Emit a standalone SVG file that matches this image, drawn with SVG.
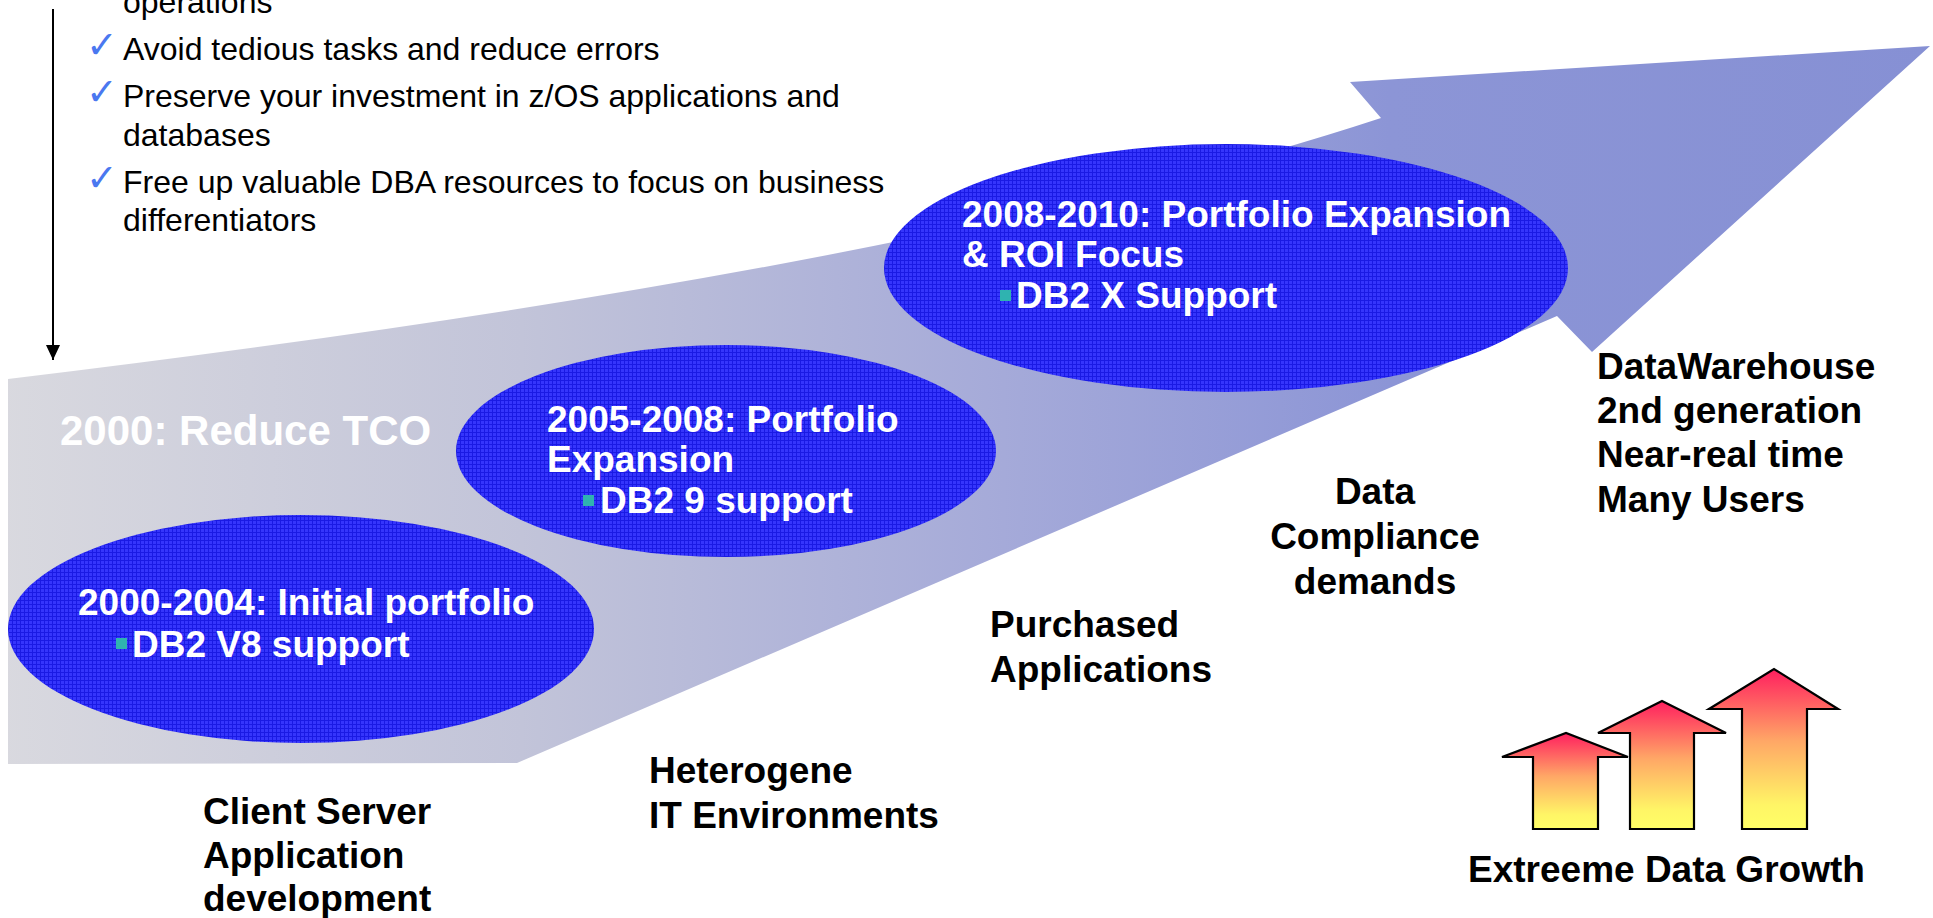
<svg xmlns="http://www.w3.org/2000/svg" width="1933" height="918" viewBox="0 0 1933 918">
  <defs>
    <linearGradient id="bandGrad" gradientUnits="userSpaceOnUse" x1="0" y1="0" x2="1930" y2="0">
      <stop offset="0" stop-color="#d9d9df"/>
      <stop offset="0.27" stop-color="#c2c4d9"/>
      <stop offset="0.52" stop-color="#a5aad9"/>
      <stop offset="0.72" stop-color="#8c95d6"/>
      <stop offset="1" stop-color="#8690d4"/>
    </linearGradient>
    <linearGradient id="growGrad" x1="0" y1="0" x2="0" y2="1">
      <stop offset="0" stop-color="#ff1f5f"/>
      <stop offset="0.45" stop-color="#ffa766"/>
      <stop offset="0.85" stop-color="#fff566"/>
      <stop offset="1" stop-color="#ffff66"/>
    </linearGradient>
    <pattern id="hatch" width="4" height="4" patternUnits="userSpaceOnUse">
      <rect width="4" height="4" fill="#3535fc"/>
      <path d="M0 0.5H4M0.5 0V4" stroke="#1a1ae4" stroke-width="1"/>
    </pattern>
    <marker id="arrowHead" viewBox="0 0 15 14" refX="15" refY="7" markerWidth="15" markerHeight="14" markerUnits="userSpaceOnUse" orient="auto">
      <path d="M0,0 L15,7 L0,14 Z" fill="#000"/>
    </marker>
    <style>
      text { font-family: "Liberation Sans", Arial, sans-serif; }
      .body { font-size: 32px; fill: #000; }
      .chk { font-family: "DejaVu Sans", sans-serif; font-size: 38px; fill: #4a78f0; }
      .lbl { font-size: 37px; font-weight: bold; fill: #000; }
      .wht { font-size: 37px; font-weight: bold; fill: #fff; }
      .ell { fill: url(#hatch); }
      .bul { fill: #2fb3b0; }
      .grow { fill: url(#growGrad); stroke: #000; stroke-width: 2.2; stroke-linejoin: miter; }
    </style>
  </defs>

  <rect width="1933" height="918" fill="#fff"/>

  <!-- big growth band / arrow -->
  <g id="band">
    <path d="M8,379 Q922,269 1381,118 L1350,82 L1930,46 L1592,352 L1557,316 L517,763 L8,764 Z" fill="url(#bandGrad)"/>
    <text x="60" y="445" font-size="42" font-weight="bold" fill="#fff">2000: Reduce TCO</text>
  </g>

  <!-- bullet list at top left -->
  <g id="bullets">
    <text class="body" x="123" y="13">operations</text>
    <text class="chk" x="86" y="58">✓</text>
    <text class="body" x="123" y="60">Avoid tedious tasks and reduce errors</text>
    <text class="chk" x="86" y="105">✓</text>
    <text class="body" x="123" y="107">Preserve your investment in z/OS applications and</text>
    <text class="body" x="123" y="146">databases</text>
    <text class="chk" x="86" y="191">✓</text>
    <text class="body" x="123" y="193">Free up valuable DBA resources to focus on business</text>
    <text class="body" x="123" y="231">differentiators</text>
  </g>

  <g id="connectors">
    <line x1="53" y1="9" x2="53" y2="360" stroke="#000" stroke-width="2" marker-end="url(#arrowHead)"/>
  </g>

  <g id="phase1">
    <ellipse class="ell" cx="301" cy="629" rx="293" ry="114"/>
    <text class="wht" x="78" y="615">2000-2004: Initial portfolio</text>
    <rect class="bul" x="116" y="638" width="11" height="11"/>
    <text class="wht" x="132" y="657">DB2 V8 support</text>
  </g>

  <g id="phase2">
    <ellipse class="ell" cx="726" cy="451" rx="270" ry="106"/>
    <text class="wht" x="547" y="432">2005-2008: Portfolio</text>
    <text class="wht" x="547" y="472">Expansion</text>
    <rect class="bul" x="583" y="495" width="11" height="11"/>
    <text class="wht" x="600" y="513">DB2 9 support</text>
  </g>

  <g id="phase3">
    <ellipse class="ell" cx="1226" cy="268" rx="342" ry="124"/>
    <text class="wht" x="962" y="227">2008-2010: Portfolio Expansion</text>
    <text class="wht" x="962" y="267">&amp; ROI Focus</text>
    <rect class="bul" x="1000" y="290" width="11" height="11"/>
    <text class="wht" x="1016" y="308">DB2 X Support</text>
  </g>

  <g id="label-client-server">
    <text class="lbl" x="203" y="824">Client Server</text>
    <text class="lbl" x="203" y="868">Application</text>
    <text class="lbl" x="203" y="911">development</text>
  </g>

  <g id="label-heterogene">
    <text class="lbl" x="649" y="783">Heterogene</text>
    <text class="lbl" x="649" y="828">IT Environments</text>
  </g>

  <g id="label-purchased">
    <text class="lbl" x="990" y="637">Purchased</text>
    <text class="lbl" x="990" y="682">Applications</text>
  </g>

  <g id="label-compliance">
    <text class="lbl" x="1375" y="504" text-anchor="middle">Data</text>
    <text class="lbl" x="1375" y="549" text-anchor="middle">Compliance</text>
    <text class="lbl" x="1375" y="594" text-anchor="middle">demands</text>
  </g>

  <g id="label-datawarehouse">
    <text class="lbl" x="1597" y="379">DataWarehouse</text>
    <text class="lbl" x="1597" y="423">2nd generation</text>
    <text class="lbl" x="1597" y="467">Near-real time</text>
    <text class="lbl" x="1597" y="512">Many Users</text>
  </g>

  <g id="data-growth">
    <polygon class="grow" points="1533,829 1533,757 1502,757 1566,733 1628,757 1598,757 1598,829"/>
    <polygon class="grow" points="1630,829 1630,733 1598,733 1662,701 1726,733 1694,733 1694,829"/>
    <polygon class="grow" points="1742,829 1742,709 1709,709 1774,669 1838,709 1807,709 1807,829"/>
    <text class="lbl" x="1468" y="882">Extreeme Data Growth</text>
  </g>
</svg>
